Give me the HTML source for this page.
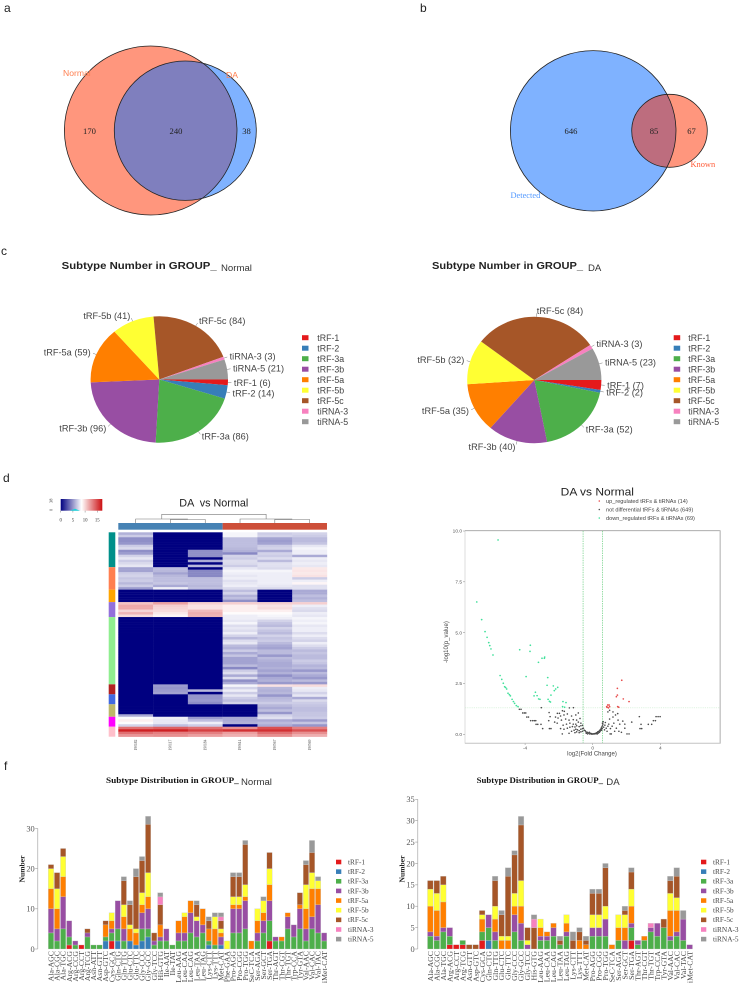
<!DOCTYPE html>
<html lang="en">
<head>
<meta charset="utf-8">
<title>tRF and tiRNA subtype figure</title>
<style>
html,body{margin:0;padding:0;background:#fff;}
#figure{display:block;filter:blur(0.35px);}
text{font-family:"Liberation Sans",sans-serif;}
.serif{font-family:"Liberation Serif",serif;}
</style>
</head>
<body>
<svg id="figure" xmlns="http://www.w3.org/2000/svg" width="739" height="986" viewBox="0 0 739 986">
  <defs>
    <clipPath id="clip-a"><ellipse cx="150.7" cy="130.5" rx="86.3" ry="84.5"/></clipPath>
    <clipPath id="clip-b"><ellipse cx="593.2" cy="130.8" rx="82.8" ry="80.2"/></clipPath>
    <linearGradient id="scale-gradient" x1="0" x2="1" y1="0" y2="0">
      <stop offset="0" stop-color="#000080"/><stop offset="0.5" stop-color="#ffffff"/><stop offset="1" stop-color="#cc0f12"/>
    </linearGradient>
  </defs>

  <text x="4" y="12" font-size="12" fill="#222">a</text>
  <text x="420" y="12" font-size="12" fill="#222">b</text>
  <text x="1" y="255" font-size="12" fill="#222">c</text>
  <text x="3" y="482" font-size="12" fill="#222">d</text>
  <text x="4" y="770" font-size="12" fill="#222">f</text>

  <g>
    <ellipse cx="150.7" cy="130.5" rx="86.3" ry="84.5" fill="#ff967d"/>
    <ellipse cx="185.3" cy="130.7" rx="71" ry="69.7" fill="#7fb2ff"/>
    <ellipse cx="185.3" cy="130.7" rx="71" ry="69.7" fill="#7f7fbe" clip-path="url(#clip-a)"/>
    <ellipse cx="150.7" cy="130.5" rx="86.3" ry="84.5" fill="none" stroke="#222" stroke-width="0.8"/>
    <ellipse cx="185.3" cy="130.7" rx="71" ry="69.7" fill="none" stroke="#222" stroke-width="0.8"/>
    <text x="63" y="76" font-size="8.6" fill="#ff7f50">Normal</text>
    <text x="226" y="78" font-size="8.6" fill="#ff7f50">DA</text>
    <text class="serif" x="89.5" y="134" font-size="8.6" text-anchor="middle" fill="#222">170</text>
    <text class="serif" x="176" y="134" font-size="8.6" text-anchor="middle" fill="#222">240</text>
    <text class="serif" x="246.5" y="134" font-size="8.6" text-anchor="middle" fill="#222">38</text>
  </g>

  <g>
    <ellipse cx="593.2" cy="130.8" rx="82.8" ry="80.2" fill="#7fb2ff"/>
    <ellipse cx="669.5" cy="130.8" rx="37.8" ry="36.5" fill="#ff967d"/>
    <ellipse cx="669.5" cy="130.8" rx="37.8" ry="36.5" fill="#bd6d7e" clip-path="url(#clip-b)"/>
    <ellipse cx="593.2" cy="130.8" rx="82.8" ry="80.2" fill="none" stroke="#222" stroke-width="0.8"/>
    <ellipse cx="669.5" cy="130.8" rx="37.8" ry="36.5" fill="none" stroke="#222" stroke-width="0.8"/>
    <text class="serif" x="510.5" y="198" font-size="8.4" fill="#4f97ff">Detected</text>
    <text class="serif" x="690.5" y="167" font-size="8.4" fill="#ff5a36">Known</text>
    <text class="serif" x="571" y="134" font-size="8.6" text-anchor="middle" fill="#222">646</text>
    <text class="serif" x="654" y="134" font-size="8.6" text-anchor="middle" fill="#222">85</text>
    <text class="serif" x="691.5" y="134" font-size="8.6" text-anchor="middle" fill="#222">67</text>
  </g>

  <text x="61.7" y="269" font-size="10.5" font-weight="bold" fill="#222" textLength="155" lengthAdjust="spacingAndGlyphs">Subtype Number in GROUP_</text>
  <text x="221" y="271" font-size="9.6" fill="#333">Normal</text>
  <text x="432" y="269" font-size="10.5" font-weight="bold" fill="#222" textLength="151" lengthAdjust="spacingAndGlyphs">Subtype Number in GROUP_</text>
  <text x="588" y="271" font-size="9.6" fill="#333">DA</text>
  <g id="pie-normal"></g>
  <g id="pie-da"></g>

  <text x="179.3" y="506.5" font-size="10.8" fill="#222" xml:space="preserve">DA  vs Normal</text>
  <g id="heatmap"></g>

  <g id="volcano"></g>

  <text class="serif" x="106" y="783" font-size="8.4" font-weight="bold" fill="#111" textLength="132.7" lengthAdjust="spacingAndGlyphs">Subtype Distribution in GROUP_</text>
  <text x="241" y="785" font-size="9.6" fill="#333">Normal</text>
  <text class="serif" x="476.7" y="783" font-size="8.4" font-weight="bold" fill="#111" textLength="126.3" lengthAdjust="spacingAndGlyphs">Subtype Distribution in GROUP_</text>
  <text x="606.3" y="785" font-size="9.6" fill="#333">DA</text>
  <g id="stack-normal"></g>
  <g id="stack-da"></g>
</svg>

<script>
// ---------- shared series ----------
const subtypes = ['tRF-1','tRF-2','tRF-3a','tRF-3b','tRF-5a','tRF-5b','tRF-5c','tiRNA-3','tiRNA-5'];
const subtypeColors = ['#e41a1c','#377eb8','#4daf4a','#984ea3','#ff7f00','#ffff33','#a65628','#f781bf','#999999'];

// ---------- pies ----------
const pieNormalValues = [6,14,86,96,59,41,84,3,21];
const pieDaValues = [7,2,52,40,35,32,84,3,23];

// ---------- heatmap ----------
const heatSamples = ['190182','190117','190184','190614','190567','190569'];
const heatGroupNames = ['teal','coral','orange','purple','light-green','firebrick','royal-blue','khaki','magenta','pink'];
const heatGroupColors = ['#00908a','#ff7f50','#ffa500','#9370db','#90ee90','#b22222','#4169e1','#bdb76b','#ff00ff','#ffc0cb'];
const heatGroupSizes = [14,9,5,6,27,4,4,5,4,4];
const heatValues = [
[5.2,0,0,7.2,6,6.2],[6,0,0,7.2,6.2,6],[4.2,0,0,5.6,4.8,5.5],[4.2,0,0,5.6,4.6,5.5],[4.4,0,0,5.6,4.8,5.8],
[6,0,0,5.6,6,6.8],[6.4,0,0,5.4,6.2,7.2],[4.2,0,4.2,5.2,5,7],[4.6,0,4.2,4,6.2,7],[6.2,0,4.2,6.2,6,5],
[6.8,0,0,6,6.5,7],[6,0,5,6.5,5.5,6.8],[6.4,0,0,6.4,6.6,7],[6.8,0,5.4,6,6.6,6.8],
[4.8,5.6,0,6.8,6.4,8.2],[4.8,5.4,4,7.2,7.2,8.3],[6,4.8,4,7,7,8.2],[6.2,5.4,4,6.8,7,8.4],[5.8,5.6,5.6,7,7,6],
[6,5.6,5.6,6.6,7,7],[5.4,5.8,5.6,6.8,7,7.8],[6,5,5.4,7,6.8,6.6],[4.6,7,5.6,6.4,6.4,6.6],
[0,0,0,5.6,0,5],[0,0,0,6.2,0,5],[0,0,0,5.2,0,5.6],[0,0,0,5.6,0,5.2],[0,0,0,4.2,0,5.6],
[9.4,10.4,9,9,9,9],[10.2,9,8.4,8,8.4,7],[10.2,8.8,8.4,8,8.6,6.6],[8.8,8.6,9.6,8,8,6.4],[9.8,8.2,10,7.6,7.6,7],[8.6,7.8,9.8,7,7.2,6.8],
[0,0,0,7,7,7.2],[0,0,0,6.8,6.2,7],[0,0,0,7.2,5.8,7.2],[0,0,0,6.5,5.5,6.8],[0,0,0,6.8,6.2,7],[0,0,0,6.5,5.8,7],
[0,0,0,7,5.5,6.5],[0,0,0,6.2,6.2,7],[0,0,0,5.4,5.8,6.5],[0,0,0,6.5,6,6.2],[0,0,0,6.8,5.5,7],[0,0,0,5.5,5,6.5],
[0,0,0,5.2,4.8,6],[0,0,0,6,5.5,5.5],[0,0,0,5,5.5,5.8],[0,0,0,5.8,4.5,5.5],[0,0,0,4.8,5.5,5.5],[0,0,0,4.8,5.2,6],
[0,0,0,4.8,5,5.8],[0,0,0,5.5,5,5.3],[0,0,0,4,5.2,5.5],[0,0,0,6,4.8,4.5],[0,0,0,6.5,5.2,5.5],[0,0,0,5,4.2,5],
[0,0,0,6.5,5,4.5],[0,0,0,4.2,5.2,5.5],[0,0,0,5,4.5,4.5],
[0,4.6,0,7.2,8.4,8.6],[0,4.4,0,6.2,5.4,7],[0,4.6,5.4,7,5.2,6.8],[0,4.8,0,6,5.4,6.2],
[0,0,4.4,6.8,4.4,6.8],[0,0,4.4,6,5.4,5],[0,0,4.6,5.6,5.6,6.4],[0,0,4.2,6.2,6,6],
[0,0,0,0,5.4,5.8],[0,0,0,0,5,5.6],[0,0,0,0,5.6,5.6],[0,0,0,0,4.4,5.8],[5,0,0,0,6.2,5.8],
[7.4,7,4.6,5,6.6,6],[8,6.8,5.6,5,5,4.6],[7.4,6.8,7,5.2,5.5,5.8],[6.2,5.6,6,0,5,4.4],
[12,12.5,12,11,13,11.5],[14.5,14.5,13.5,14,14,13],[12,11.5,11.5,10.5,12,11],[10.8,11,10.5,10,11,10]
];
const heatScaleTicks = [0,5,10,15];

// ---------- volcano ----------
const volcanoUpPoints = [[1.72,2.66],[1.46,2.26],[1.46,1.93],[1.4,1.85],[1.81,1.74],[2.15,1.61],[0.83,1.36],[0.89,1.44],[0.97,1.44],[1,1.36],[0.85,1.33],[0.93,1.3],[1.48,1.36],[1.54,1.33]];
const volcanoDownPoints = [[-5.6,9.56],[-6.86,6.51],[-6.57,5.64],[-6.37,5.05],[-6.25,4.77],[-6.15,4.51],[-6.09,4.36],[-6.02,4.2],[-5.9,3.9],[-4.32,4.16],[-3.69,4.38],[-3.71,4.08],[-3.21,3.54],[-3,3.74],[-2.84,3.8],[-2.86,3.74],[-3.94,2.84],[-5.48,2.89],[-5.38,2.7],[-5.29,2.51],[-5.21,2.34],[-5.15,2.3],[-5.09,2.23],[-5.01,2.02],[-4.93,1.95],[-4.87,1.89],[-4.77,1.72],[-4.69,1.61],[-4.62,1.52],[-4.52,1.41],[-4.42,1.36],[-2.66,2.79],[-2.7,2.41],[-2.33,2.38],[-2.07,2.31],[-2.19,2.23],[-2.27,2.15],[-2.47,1.93],[-3.39,2.07],[-3.29,1.9],[-3.47,1.89],[-3.2,1.74],[-3.12,1.72],[-2.64,1.72],[-2.56,1.62],[-2.5,1.59],[-1.76,1.61],[-1.58,1.56],[-1.78,1.36],[-1.66,1.33]];
const volcanoFlatPoints = [[-4.34,1.23],[-4.24,1.23],[-4.14,1.05],[-4.04,1.05],[-3.96,1.05],[-3.9,0.85],[-3.8,0.85],[-3.67,0.67],[-3.55,0.67],[-3.45,0.67],[-3.37,0.67],[-3.35,0.49],[-3.25,0.49],[-3.06,0.49],[-2.96,0.28],[-2.56,0.28],[-2.47,0.28],[-3.04,1.31],[-2.58,1.07],[-2.52,0.87],[-2.6,0.67],[-2.09,1.03],[-1.97,1.03],[-1.79,1.16],[-1.68,1.13],[-1.38,1.3],[-1.14,1.31],[-2.2,0.85],[-2.05,0.8],[-1.9,0.9],[-1.7,0.95],[-1.5,1],[-1.25,0.9],[-1,0.95],[-0.85,1.05],[-2.25,0.6],[-2.1,0.55],[-1.85,0.7],[-1.6,0.75],[-1.4,0.7],[-1.15,0.72],[-0.95,0.7],[-0.75,0.78],[-1.75,0.45],[-1.55,0.5],[-1.35,0.55],[-1.15,0.5],[-1,0.5],[-0.85,0.6],[-0.7,0.55],[-1.9,0.28],[-1.7,0.25],[-1.5,0.3],[-1.35,0.35],[-1.2,0.38],[-1.05,0.36],[-0.95,0.42],[-0.8,0.38],[-0.7,0.42],[-0.6,0.44],[-1.8,0.02],[-1.4,0.05],[-1.25,0.15],[-1.1,0.2],[-1,0.25],[-0.9,0.22],[-0.8,0.18],[-0.7,0.25],[-0.6,0.28],[-0.55,0.3],[-1.05,0.08],[-0.95,0.12],[-0.8,0.08],[-0.7,0.12],[-0.6,0.15],[-0.5,0.2],[-0.45,0.18],[-0.4,0.12],[-0.38,0.05],[-0.32,0.1],[-0.3,0.02],[-0.25,0.06],[-0.2,0.1],[-0.18,0.02],[-0.12,0.05],[-0.08,0.01],[-0.05,0.03],[0,0.01],[0.04,0.02],[0.08,0.03],[0.12,0.02],[0.16,0.05],[0.2,0.03],[0.24,0.08],[0.27,0.02],[0.3,0.12],[0.33,0.06],[0.36,0.15],[0.4,0.1],[0.42,0.2],[0.45,0.16],[0.48,0.24],[0.5,0.3],[0.52,0.2],[0.54,0.36],[0.56,0.28],[0.58,0.42],[0.58,0.55],[0.6,0.5],[0.62,0.62],[0.65,0.35],[0.7,0.22],[0.72,0.45],[0.75,0.58],[0.8,0.3],[0.85,0.15],[0.9,0.4],[0.95,0.5],[1,0.75],[1.03,0.02],[1.1,0.02],[1.05,0.28],[1.15,0.4],[1.2,0.85],[1.25,0.55],[1.3,0.15],[1.35,0.95],[1.4,0.3],[1.5,0.7],[1.55,0.15],[1.6,0.5],[1.7,0.1],[1.78,0.65],[1.9,0.5],[1.9,0.3],[2.03,0.02],[2.15,0.02],[2.31,0.6],[2.76,0.87],[2.8,0.28],[2.9,0.28],[2.86,0.49],[3.29,0.49],[3.49,0.49],[3.59,0.67],[3.71,0.67],[3.75,0.87],[3.87,0.87],[3.99,0.87],[1.48,1.02],[1.2,1.1],[1,1.18],[0.9,1.1]];
const volcanoXTicks = [-4,0,4];
const volcanoYTicks = [0,2.5,5,7.5,10];
const volcanoFoldCut = 0.57;
const volcanoPCut = 1.3;
const volcanoLegendLabels = ['up_regulated tRFs & tiRNAs (14)','not differential tRFs & tiRNAs (649)','down_regulated tRFs & tiRNAs (69)'];

// ---------- stacked bars ----------
const normalCategories = ['Ala-AGC','Ala-CGC','Ala-TGC','Arg-ACG','Arg-CCG','Arg-CCT','Arg-TCG','Asn-ATT','Asn-GTT','Asp-GTC','Cys-GCA','Gln-CTG','Gln-TTG','Glu-CTC','Glu-TTC','Gly-CCC','Gly-GCC','Gly-TCC','His-GTG','Ile-AAT','Ile-TAT','Leu-AAG','Leu-CAA','Leu-CAG','Leu-TAA','Leu-TAG','Lys-CTT','Lys-TTT','Met-CAT','Phe-GAA','Pro-AGG','Pro-CGG','Pro-TGG','SeC-TCA','Ser-AGA','Ser-GCT','Ser-TGA','Thr-AGT','Thr-CGT','Thr-TGT','Trp-CCA','Tyr-GTA','Val-AAC','Val-CAC','Val-TAC','iMet-CAT'];
const normalStacks = [
[0,0,4,6,5,5,1,0,0],[0,0,2,3,5,5,4,0,0],[0,0,5,8,5,5,2,0,0],[1,0,2,4,0,0,0,0,0],[0,0,1,1,0,0,0,0,0],[1,0,0,0,0,0,0,0,0],
[0,0,3,1,0,0,1,0,0],[0,0,1,0,0,0,0,0,0],[0,0,1,0,0,0,0,0,0],[0,2,1,0,3,0,1,0,0],[2,0,2,1,2,2,0,0,0],[0,2,3,7,0,0,0,0,0],
[0,0,2,3,3,3,6,0,1],[0,2,0,0,3,1,5,0,1],[0,1,0,0,3,1,13,0,2],[0,2,3,4,2,3,8,0,1],[0,3,2,5,3,6,12,0,2],[0,0,1,1,0,0,2,0,0],
[0,0,2,1,3,0,5,2,1],[0,0,2,3,0,0,0,0,0],[0,0,1,0,0,0,0,0,0],[0,0,2,2,3,0,0,0,0],[0,0,2,2,4,1,0,0,0],[0,0,4,5,3,0,0,0,0],
[0,0,3,4,0,1,3,0,1],[0,0,4,2,4,0,0,0,0],[0,1,1,0,3,0,2,0,1],[0,0,1,0,4,3,0,0,1],[0,1,0,2,1,1,2,1,1],[0,0,0,0,0,2,0,0,0],
[0,0,4,6,1,2,5,0,1],[0,0,4,6,1,2,5,0,1],[0,0,5,7,1,3,10,0,1],[0,0,0,0,2,0,0,0,0],[0,0,2,2,3,3,0,0,0],[0,0,4,3,2,3,0,0,1],
[2,0,5,5,4,4,4,0,0],[0,0,2,1,0,0,0,0,0],[0,0,2,0,1,0,0,0,0],[0,0,5,3,1,0,0,0,0],[0,0,3,3,0,0,0,0,0],[0,0,5,5,1,0,3,0,0],
[0,0,2,3,5,6,5,0,1],[0,0,5,3,7,4,5,0,3],[0,0,4,7,4,2,0,0,1],[0,0,2,2,0,0,0,0,0]
];
const normalYTicks = [0,10,20,30];
const daCategories = ['Ala-AGC','Ala-CGC','Ala-TGC','Arg-ACG','Arg-CCT','Arg-TCG','Asn-GTT','Asp-GTC','Cys-GCA','Gln-CTG','Gln-TTG','Glu-CTC','Glu-TTC','Gly-CCC','Gly-GCC','Gly-TCC','His-GTG','Leu-AAG','Leu-CAA','Leu-CAG','Leu-TAA','Leu-TAG','Lys-CTT','Lys-TTT','Met-CAT','Pro-AGG','Pro-CGG','Pro-TGG','SeC-TCA','Ser-AGA','Ser-GCT','Ser-TGA','Thr-AGT','Thr-CGT','Thr-TGT','Trp-CCA','Tyr-GTA','Val-AAC','Val-CAC','Val-TAC','iMet-CAT'];
const daStacks = [
[0,0,3,1,6,4,2,0,0],[0,0,2,1,6,4,3,0,0],[0,0,4,1,6,4,2,0,0],[1,0,2,2,0,0,0,0,0],[1,0,0,0,0,0,0,0,0],[1,0,1,0,0,0,0,0,0],
[0,0,0,0,0,0,1,0,0],[0,0,0,0,0,0,1,0,0],[2,0,2,0,3,1,1,0,0],[0,2,3,3,0,0,0,0,0],[0,0,2,2,3,3,6,0,1],[0,0,0,0,2,1,5,0,1],
[0,0,0,0,2,1,14,0,2],[0,0,4,4,2,3,9,0,1],[0,0,2,4,4,6,13,0,2],[0,0,0,1,0,1,3,0,0],[0,0,0,0,0,0,5,2,1],[0,0,2,1,2,2,0,0,0],
[0,0,2,1,1,0,0,0,0],[0,0,3,2,1,0,0,0,0],[0,0,1,0,0,0,1,0,1],[0,0,3,1,2,2,0,0,0],[0,0,0,0,0,0,2,0,2],[0,0,0,0,2,0,2,0,1],
[0,0,0,0,1,0,1,0,1],[0,0,3,2,0,3,5,0,1],[0,0,3,2,0,3,5,0,1],[0,0,3,4,0,3,9,0,1],[0,0,0,0,1,0,0,0,0],[0,0,2,0,3,3,0,0,0],
[0,0,0,2,3,3,1,0,1],[2,0,3,1,4,4,4,0,1],[0,0,1,1,0,0,0,0,0],[0,0,2,0,1,0,0,0,0],[0,0,4,1,0,0,0,1,0],[0,0,3,3,0,0,0,0,0],
[0,0,5,0,0,0,2,0,0],[0,0,2,1,6,4,3,0,1],[0,0,3,1,5,3,5,0,2],[0,0,2,5,0,0,0,0,2],[0,0,0,1,0,0,0,0,0]
];
const daYTicks = [0,5,10,15,20,25,30,35];

const NS = 'http://www.w3.org/2000/svg';
function make(parent, tag, attrs, content) {
  const node = document.createElementNS(NS, tag);
  for (const key in attrs) node.setAttribute(key, attrs[key]);
  if (content !== undefined) node.textContent = content;
  parent.appendChild(node);
  return node;
}
function slug(s) { return s.toLowerCase().replace(/[^a-z0-9]+/g, '-'); }

function drawPie(host, values, cx, cy, rx, ry, legendSwatchX, legendTextX) {
  const total = values.reduce((a, b) => a + b, 0);
  let cum = 0;
  values.forEach((v, i) => {
    const a0 = cum / total * 2 * Math.PI;
    const a1 = (cum + v) / total * 2 * Math.PI;
    const am = (a0 + a1) / 2;
    cum += v;
    const large = (a1 - a0) > Math.PI ? 1 : 0;
    const d = 'M' + cx + ' ' + cy +
      'L' + (cx + rx * Math.cos(a0)) + ' ' + (cy + ry * Math.sin(a0)) +
      'A' + rx + ' ' + ry + ' 0 ' + large + ' 1 ' + (cx + rx * Math.cos(a1)) + ' ' + (cy + ry * Math.sin(a1)) + 'Z';
    const slice = make(host, 'path', {d: d, fill: subtypeColors[i]});
    
    
    const ex = cx + rx * Math.cos(am), ey = cy + ry * Math.sin(am);
    const leader = make(host, 'line', {x1: ex, y1: ey, x2: ex + 3.5 * Math.cos(am), y2: ey + 3.5 * Math.sin(am), stroke: '#777', 'stroke-width': 0.5});
    
    
    const label = make(host, 'text', {
      x: ex + 6 * Math.cos(am), y: ey + 6 * Math.sin(am) + 3.2,
      'font-size': 9.2, fill: '#444', 'text-anchor': Math.cos(am) >= 0 ? 'start' : 'end'
    }, subtypes[i] + ' (' + v + ')');
    
    
  });
  subtypes.forEach((name, i) => {
    const y = 337.7 + i * 10.5;
    const sw = make(host, 'rect', {x: legendSwatchX, y: y - 2.5, width: 6.5, height: 5, fill: subtypeColors[i]});
    
    
    const t = make(host, 'text', {x: legendTextX, y: y + 3.1, 'font-size': 8.8, fill: '#444'}, name);
    
    
  });
}
drawPie(document.getElementById('pie-normal'), pieNormalValues, 159.3, 379.5, 68.7, 63.2, 302, 317.3);
drawPie(document.getElementById('pie-da'), pieDaValues, 534.3, 380, 67.1, 63.2, 673.7, 688.3);

// heatmap
function heatColor(v) {
  const mid = 7.5, low = [0, 0, 128], high = [204, 15, 18];
  const t = v <= mid ? v / mid : (v - mid) / (15 - mid);
  const a = v <= mid ? low : [255, 255, 255];
  const b = v <= mid ? [255, 255, 255] : high;
  return 'rgb(' + a.map((c, k) => Math.round(c + (b[k] - c) * t)).join(',') + ')';
}
(function () {
  const host = document.getElementById('heatmap');
  const left = 118.3, top = 532.3, colW = 34.78, plotH = 204.4;
  const rowH = plotH / heatValues.length;
  const xCol = c => left + c * colW;
  const yRow = r => top + r * rowH;
  heatValues.forEach((row, r) => {
    row.forEach((v, c) => {
      const cell = make(host, 'rect', {x: xCol(c), y: yRow(r), width: colW + 0.2, height: rowH + 0.2, fill: heatColor(v)});
      
      
    });
  });
  let start = 0;
  heatGroupSizes.forEach((size, g) => {
    const band = make(host, 'rect', {x: 108.7, y: yRow(start), width: 6.6, height: size * rowH, fill: heatGroupColors[g]});
    
    
    start += size;
  });
  const half = heatSamples.length / 2;
  const bandLeft = make(host, 'rect', {x: xCol(0), y: 523, width: colW * half, height: 6.7, fill: '#4682b4'});
  
  
  const bandRight = make(host, 'rect', {x: xCol(half), y: 523, width: colW * half, height: 6.7, fill: '#cd4f39'});
  
  
  heatSamples.forEach((s, c) => {
    const px = xCol(c) + colW / 2;
    const lab = make(host, 'text', {x: 0, y: 0, 'font-size': 3.6, fill: '#444', 'text-anchor': 'middle',
      class: 'serif', transform: 'translate(' + (px + 1.2) + ' 745) rotate(-90)'}, s);
    
    
  });
  const cc = c => xCol(c) + colW / 2;
  const dendroD = [
    'M' + cc(0) + ' 523V519H' + ((cc(1) + cc(2)) / 2),
    'M' + cc(1) + ' 523V519.5H' + cc(2) + 'V523',
    'M' + cc(3) + ' 523V519H' + ((cc(4) + cc(5)) / 2),
    'M' + cc(4) + ' 523V519.5H' + cc(5) + 'V523',
    'M' + ((cc(0) + (cc(1) + cc(2)) / 2) / 2) + ' 519V514.3H' + ((cc(3) + (cc(4) + cc(5)) / 2) / 2) + 'V519'
  ].join('');
  const dendro = make(host, 'path', {d: dendroD, fill: 'none', stroke: '#777', 'stroke-width': 0.6});
  
  

  const scale = make(host, 'rect', {x: 60.7, y: 499, width: 41.6, height: 11.7, fill: 'url(#scale-gradient)'});
  
  
  const hist = make(host, 'path', {d: 'M70 510.7L75 508.8L80 510.7Z', fill: '#19d3da'});
  
  
  heatScaleTicks.forEach(v => {
    const px = 60.7 + v / 15 * 36.6;
    const tick = make(host, 'line', {x1: px, x2: px, y1: 510.7, y2: 512.5, stroke: '#555', 'stroke-width': 0.4});
    
    
    const t = make(host, 'text', {x: px, y: 521.5, 'font-size': 4.8, fill: '#333', 'text-anchor': 'middle', class: 'serif'}, v);
    
    
  });
  const cnt0 = make(host, 'text', {x: 0, y: 0, 'font-size': 4.4, fill: '#333', class: 'serif', transform: 'translate(52.5 511) rotate(-90)'}, '0');
  
  
  const cnt1 = make(host, 'text', {x: 0, y: 0, 'font-size': 4.4, fill: '#333', class: 'serif', transform: 'translate(52.5 503) rotate(-90)'}, '38');
  
  
})();

// volcano
(function () {
  const host = document.getElementById('volcano');
  const xOf = v => 592.7 + v * 16.9;
  const yOf = v => 734.3 - v * 20.33;
  const title = make(host, 'text', {x: 560.7, y: 495.7, 'font-size': 11.2, fill: '#222', textLength: 73.3, lengthAdjust: 'spacingAndGlyphs'}, 'DA vs Normal');
  
  
  const legendColors = ['#e84a4a', '#555555', '#3fe09a'];
  volcanoLegendLabels.forEach((label, i) => {
    const ly = 501 + i * 8.5;
    const dot = make(host, 'circle', {cx: 599.3, cy: ly, r: 0.8, fill: legendColors[i]});
    
    
    const t = make(host, 'text', {x: 606, y: ly + 1.9, 'font-size': 5.6, fill: '#444'}, label);
    
    
  });
  const leftAxis = make(host, 'line', {x1: 465, x2: 465, y1: 530.7, y2: 743.5, stroke: '#d5d5d5', 'stroke-width': 0.8});
  
  
  const topAxis = make(host, 'line', {x1: 465, x2: 720.5, y1: 530.7, y2: 530.7, stroke: '#a0a0a0', 'stroke-width': 0.9});
  
  
  const rightAxis = make(host, 'line', {x1: 720.2, x2: 720.2, y1: 530.7, y2: 743.5, stroke: '#c4c4c4', 'stroke-width': 1.4});
  
  
  const bottomAxis = make(host, 'line', {x1: 465, x2: 720.5, y1: 743.3, y2: 743.3, stroke: '#c4c4c4', 'stroke-width': 1});
  
  
  volcanoYTicks.forEach(v => {
    const tick = make(host, 'line', {x1: 463, x2: 465, y1: yOf(v), y2: yOf(v), stroke: '#888', 'stroke-width': 0.5});
    
    
    const t = make(host, 'text', {x: 462, y: yOf(v) + 1.6, 'font-size': 4.8, fill: '#555', 'text-anchor': 'end'}, v.toFixed(1));
    
    
  });
  volcanoXTicks.forEach(v => {
    const tick = make(host, 'line', {x1: xOf(v), x2: xOf(v), y1: 743.5, y2: 745, stroke: '#888', 'stroke-width': 0.5});
    
    
    const t = make(host, 'text', {x: xOf(v), y: 749.5, 'font-size': 4.8, fill: '#555', 'text-anchor': 'middle'}, v);
    
    
  });
  [-volcanoFoldCut, volcanoFoldCut].forEach(v => {
    const cut = make(host, 'line', {x1: xOf(v), x2: xOf(v), y1: 531, y2: 743, stroke: '#4fc56a', 'stroke-width': 0.6, 'stroke-dasharray': '1.4 1'});
    
    
  });
  const pLine = make(host, 'line', {x1: 465, x2: 720, y1: yOf(volcanoPCut), y2: yOf(volcanoPCut), stroke: '#bfe8c4', 'stroke-width': 0.5, 'stroke-dasharray': '1.2 1'});
  
  
  volcanoFlatPoints.forEach(p => {
    const c = make(host, 'circle', {cx: xOf(p[0]), cy: yOf(p[1]), r: 0.8, fill: '#4a4a4a'});
    
    
  });
  volcanoDownPoints.forEach(p => {
    const c = make(host, 'circle', {cx: xOf(p[0]), cy: yOf(p[1]), r: 0.85, fill: '#3fe09a'});
    
    
  });
  volcanoUpPoints.forEach(p => {
    const c = make(host, 'circle', {cx: xOf(p[0]), cy: yOf(p[1]), r: 0.85, fill: '#e84a4a'});
    
    
  });
  const yTitle = make(host, 'text', {x: 0, y: 0, 'font-size': 6, fill: '#444', 'text-anchor': 'middle', transform: 'translate(448 642) rotate(-90)'}, '-log10(p_value)');
  
  
  const xTitle = make(host, 'text', {x: 592, y: 755.5, 'font-size': 6, fill: '#444', 'text-anchor': 'middle'}, 'log2(Fold Change)');
  
  
})();

// stacked bars
function drawStack(host, cats, stacks, ticks, o) {
  const xOf = i => o.x0 + i * o.dx;
  const yOf = v => 949 - v * o.unit;
  const maxTick = ticks[ticks.length - 1];
  const axis = make(host, 'line', {x1: o.axisX, x2: o.axisX, y1: yOf(maxTick), y2: 949, stroke: '#bbb', 'stroke-width': 0.9});
  
  
  ticks.forEach(v => {
    const tick = make(host, 'line', {x1: o.axisX - 2.5, x2: o.axisX, y1: yOf(v), y2: yOf(v), stroke: '#999', 'stroke-width': 0.6});
    
    
    const t = make(host, 'text', {x: o.axisX - 3, y: yOf(v) + 2.9, 'font-size': 8.4, fill: '#555', 'text-anchor': 'end', class: 'serif'}, v);
    
    
  });
  const yTitle = make(host, 'text', {x: 0, y: 0, 'font-size': 7.6, 'font-weight': 'bold', fill: '#222', 'text-anchor': 'middle', class: 'serif', transform: 'translate(' + o.titleX + ' 869) rotate(-90)'}, 'Number');
  
  
  cats.forEach((cat, i) => {
    let acc = 0;
    stacks[i].forEach((v, s) => {
      if (!v) return;
      const seg = make(host, 'rect', {x: xOf(i) - o.barW / 2, y: yOf(acc + v), width: o.barW, height: v * o.unit, fill: subtypeColors[s], stroke: '#c8c8c8', 'stroke-width': 0.3});
      
      
      acc += v;
    });
    const lx = xOf(i), ly = 951;
    const lab = make(host, 'text', {x: 0, y: 0, 'font-size': 7.8, fill: '#444', 'text-anchor': 'end', class: 'serif', transform: 'translate(' + (lx + 2.6) + ' ' + ly + ') rotate(-90)'}, cat);
    
    
  });
  subtypes.forEach((name, i) => {
    const ly = 862 + i * 9.64;
    const sw = make(host, 'rect', {x: o.legendX, y: ly - 2.3, width: 5.3, height: 4.6, fill: subtypeColors[i]});
    
    
    const t = make(host, 'text', {x: o.legendX + 12, y: ly + 2.4, 'font-size': 7.3, fill: '#444', class: 'serif'}, name);
    
    
  });
}
drawStack(document.getElementById('stack-normal'), normalCategories, normalStacks, normalYTicks,
  {x0: 51, dx: 6.07, unit: 4.02, barW: 5.3, axisX: 37.7, titleX: 24.5, legendX: 336});
drawStack(document.getElementById('stack-da'), daCategories, daStacks, daYTicks,
  {x0: 430.3, dx: 6.485, unit: 4.277, barW: 5.6, axisX: 417.7, titleX: 404.5, legendX: 701});
</script>
</body>
</html>
